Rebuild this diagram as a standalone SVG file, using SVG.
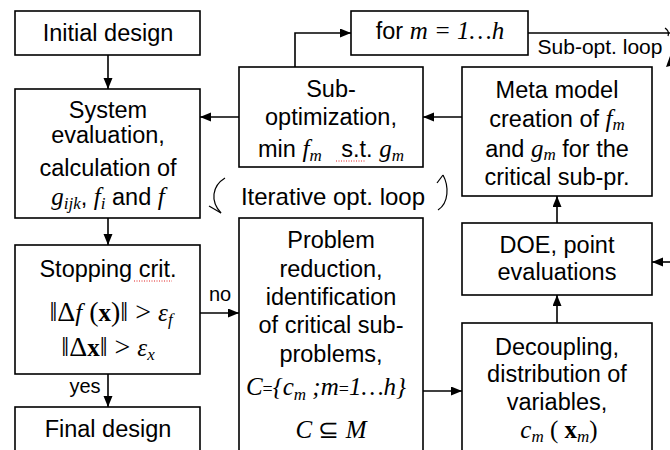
<svg xmlns="http://www.w3.org/2000/svg" width="670" height="450" viewBox="0 0 670 450">
  <defs>
    <marker id="arrow" markerUnits="userSpaceOnUse" markerWidth="12" markerHeight="10" refX="11" refY="4.5" orient="auto">
      <path d="M0,0 L11,4.5 L0,9 z" fill="#000"/>
    </marker>
    <style>
      .box { fill: #fff; stroke: #000; stroke-width: 1.6; }
      .lbl { font-family: "Liberation Sans", Arial, sans-serif; font-size: 23.5px; fill: #000; text-anchor: middle; }
      .m { font-family: "Liberation Serif", "Times New Roman", serif; font-style: italic; font-size: 25px; }
      .mu { font-family: "Liberation Serif", "Times New Roman", serif; font-style: normal; font-size: 25px; }
      .sub { font-size: 17px; }
      .conn { fill: none; stroke: #000; stroke-width: 1.6; }
      .conn-a { fill: none; stroke: #000; stroke-width: 1.6; marker-end: url(#arrow); }
      .curl { fill: none; stroke: #000; stroke-width: 1.2; }
      .spell { stroke: #e02020; stroke-width: 1; stroke-dasharray: 1 1.5; }
    </style>
  </defs>

  <rect width="670" height="450" fill="#fff"/>

  <!-- connectors -->
  <g id="connectors">
    <line class="conn-a" x1="108" y1="55" x2="108" y2="89"/>
    <line class="conn-a" x1="108" y1="218" x2="108" y2="245"/>
    <line class="conn-a" x1="108" y1="374" x2="108" y2="407"/>
    <line class="conn-a" x1="200" y1="313" x2="239" y2="313"/>
    <line class="conn-a" x1="239" y1="117" x2="200" y2="117"/>
    <polyline class="conn-a" points="295,67 295,33 351,33"/>
    <line class="conn" x1="528" y1="33" x2="670" y2="33"/>
    <line class="conn-a" x1="462" y1="117" x2="423" y2="117"/>
    <line class="conn-a" x1="557" y1="223" x2="557" y2="196"/>
    <line class="conn-a" x1="557" y1="323" x2="557" y2="295"/>
    <line class="conn-a" x1="670" y1="262" x2="652" y2="262"/>
    <line class="conn-a" x1="423" y1="391" x2="462" y2="391"/>
    <text class="lbl" x="85" y="393" style="font-size:20px">yes</text>
    <text class="lbl" x="220" y="301" style="font-size:20px">no</text>
  </g>

  <!-- loop annotations -->
  <g id="loop-iterative">
    <text class="lbl" x="333" y="205" style="font-size:24px">Iterative opt. loop</text>
    <path class="curl" d="M225,178 C212,186 210,201 221,213"/>
    <path class="curl" d="M221,213 L209,206"/>
    <path class="curl" d="M438,210 C449,203 449,186 443,175"/>
    <path class="curl" d="M443,175 L437,183"/>
  </g>
  <g id="loop-subopt">
    <text class="lbl" x="600" y="54" style="font-size:21px">Sub-opt. loop</text>
    <path class="curl" d="M665,28 C668,30 669,33 668,36"/>
    <polygon points="670,56 666,67 670,66" fill="#000"/>
  </g>

  <g id="initial-design">
    <rect class="box" x="15" y="11" width="185" height="44"/>
    <text class="lbl" x="108" y="41">Initial design</text>
  </g>

  <g id="system-evaluation">
    <rect class="box" x="15" y="89" width="185" height="129"/>
    <text class="lbl" x="108" y="118">System</text>
    <text class="lbl" x="108" y="143">evaluation,</text>
    <text class="lbl" x="108" y="176">calculation of</text>
    <text class="lbl" x="108" y="205"><tspan class="m">g</tspan><tspan class="m sub" dy="4">ijk</tspan><tspan dy="-4">, </tspan><tspan class="m">f</tspan><tspan class="m sub" dy="4">i</tspan><tspan dy="-4"> and </tspan><tspan class="m">f</tspan></text>
  </g>

  <g id="stopping-criterion">
    <rect class="box" x="15" y="245" width="185" height="129"/>
    <text class="lbl" x="108" y="277">Stopping crit.</text>
    <line class="spell" x1="134" y1="281" x2="172" y2="281"/>
    <text class="lbl" x="111" y="321"><tspan class="mu" style="font-size:28px">‖Δ</tspan><tspan class="m">f</tspan><tspan class="mu" style="font-size:28px"> (</tspan><tspan class="mu" font-weight="bold">x</tspan><tspan class="mu" style="font-size:28px">)‖ &gt; </tspan><tspan class="m">ε</tspan><tspan class="m sub" dy="4">f</tspan></text>
    <text class="lbl" x="108" y="356"><tspan class="mu" style="font-size:28px">‖Δ</tspan><tspan class="mu" font-weight="bold">x</tspan><tspan class="mu" style="font-size:28px">‖ &gt; </tspan><tspan class="m">ε</tspan><tspan class="m sub" dy="4">x</tspan></text>
  </g>

  <g id="final-design">
    <rect class="box" x="15" y="407" width="185" height="50"/>
    <text class="lbl" x="108" y="437">Final design</text>
  </g>

  <g id="sub-optimization">
    <rect class="box" x="239" y="67" width="184" height="100"/>
    <text class="lbl" x="331" y="97">Sub-</text>
    <text class="lbl" x="331" y="125">optimization,</text>
    <text class="lbl" x="331" y="157">min <tspan class="m">f</tspan><tspan class="m sub" dy="4">m</tspan><tspan dy="-4">&#160;&#160;&#160;s.t. </tspan><tspan class="m">g</tspan><tspan class="m sub" dy="4">m</tspan></text>
    <line class="spell" x1="336" y1="161" x2="366" y2="161"/>
  </g>

  <g id="loop-counter">
    <rect class="box" x="351" y="11" width="177" height="44"/>
    <text class="lbl" x="440" y="39">for <tspan class="m">m = 1…h</tspan></text>
  </g>

  <g id="meta-model">
    <rect class="box" x="462" y="67" width="190" height="129"/>
    <text class="lbl" x="557" y="98">Meta model</text>
    <text class="lbl" x="557" y="127">creation of <tspan class="m">f</tspan><tspan class="m sub" dy="3">m</tspan></text>
    <text class="lbl" x="557" y="157">and <tspan class="m">g</tspan><tspan class="m sub" dy="3">m</tspan><tspan dy="-3"> for the</tspan></text>
    <text class="lbl" x="557" y="185">critical sub-pr.</text>
  </g>

  <g id="problem-reduction">
    <rect class="box" x="239" y="218" width="184" height="240"/>
    <text class="lbl" x="331" y="248">Problem</text>
    <text class="lbl" x="331" y="277">reduction,</text>
    <text class="lbl" x="331" y="305">identification</text>
    <text class="lbl" x="331" y="333">of critical sub-</text>
    <text class="lbl" x="331" y="362">problems,</text>
    <text class="lbl" x="326" y="395"><tspan class="m">C</tspan><tspan class="mu" style="font-size:18px">=</tspan><tspan class="m">{c</tspan><tspan class="m sub" dy="5">m</tspan><tspan class="m" dy="-5"> ;m</tspan><tspan class="mu" style="font-size:18px">=</tspan><tspan class="m">1…h}</tspan></text>
    <text class="lbl" x="331" y="438"><tspan class="m">C</tspan><tspan class="mu"> ⊆ </tspan><tspan class="m">M</tspan></text>
  </g>

  <g id="doe">
    <rect class="box" x="462" y="223" width="190" height="72"/>
    <text class="lbl" x="557" y="253">DOE, point</text>
    <text class="lbl" x="557" y="280">evaluations</text>
  </g>

  <g id="decoupling">
    <rect class="box" x="462" y="323" width="190" height="135"/>
    <text class="lbl" x="557" y="355">Decoupling,</text>
    <text class="lbl" x="557" y="382">distribution of</text>
    <text class="lbl" x="557" y="410">variables,</text>
    <text class="lbl" x="559" y="438"><tspan class="m">c</tspan><tspan class="m sub" dy="4">m</tspan><tspan class="mu" dy="-4"> ( </tspan><tspan class="mu" font-weight="bold">x</tspan><tspan class="m sub" dy="4">m</tspan><tspan class="mu" dy="-4">)</tspan></text>
  </g>
</svg>
